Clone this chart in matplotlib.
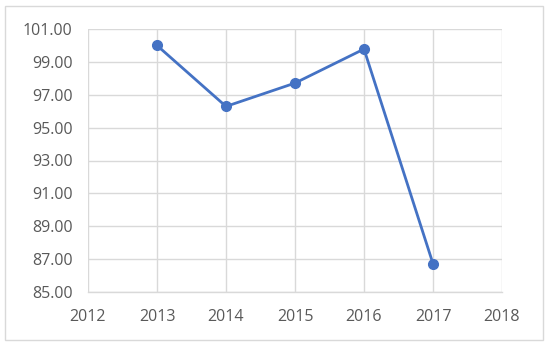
import matplotlib.pyplot as plt
from matplotlib.patches import Rectangle

years = [2013, 2014, 2015, 2016, 2017]
values = [100.0, 96.29, 97.71, 99.78, 86.72]
xticks = [2012, 2013, 2014, 2015, 2016, 2017, 2018]
yticks = [85, 87, 89, 91, 93, 95, 97, 99, 101]

plt.rcParams["font.family"] = ["Open Sans", "DejaVu Sans"]

fig = plt.figure(figsize=(5.5, 3.48), dpi=100)
ax = fig.add_axes([88 / 550, 1 - 292 / 348, 414 / 550, 263 / 348])

ax.plot(years, values, color="#4472c4", linewidth=2.0, marker="o",
        markersize=7, zorder=3)

ax.set_xlim(2012, 2018)
ax.set_ylim(85, 101)
ax.set_xticks(xticks)
ax.set_yticks(yticks)
ax.set_yticklabels([f"{v:.2f}" for v in yticks])
ax.grid(True, color="#d9d9d9", linewidth=1.0)
ax.set_axisbelow(True)
for side in ["top", "right", "left"]:
    ax.spines[side].set_visible(False)
ax.spines["bottom"].set_color("#d9d9d9")
ax.spines["bottom"].set_linewidth(1.0)
ax.tick_params(axis="both", length=0, labelsize=11.5, labelcolor="#595959")
ax.tick_params(axis="x", pad=12)
ax.tick_params(axis="y", pad=11)

fig.patches.append(Rectangle((5 / 550, 1 - 340 / 348), 538 / 550, 334 / 348,
                             transform=fig.transFigure, fill=False,
                             edgecolor="#d9d9d9", linewidth=1.0))

fig.savefig("out.png", dpi=100)
